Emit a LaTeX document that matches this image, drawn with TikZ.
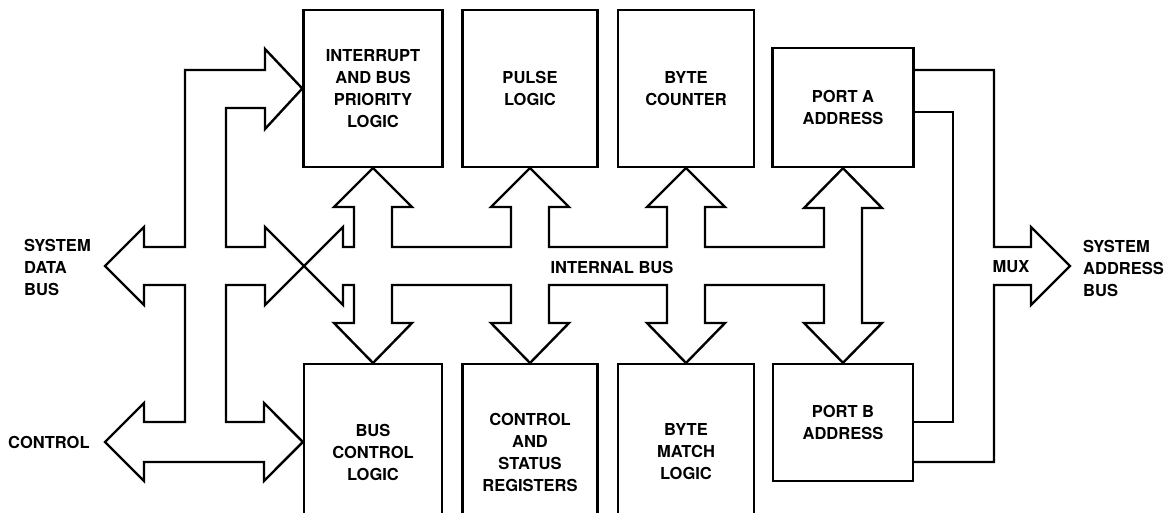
\documentclass[tikz,border=0pt]{standalone}
\usepackage{fontspec}
\setmainfont{TeX Gyre Heros}
\usetikzlibrary{calc}

\begin{document}
\begin{tikzpicture}[
    x=1pt, y=-1pt,
    block/.style={rectangle, draw=black, line width=2.4pt, inner sep=0pt,
                  align=center, font=\fontsize{16.5}{22}\selectfont\bfseries},
    topblock/.style={block, minimum height=157pt},
    lowblock/.style={block, minimum height=176pt},
    label/.style={inner sep=0pt, align=left, font=\fontsize{16.5}{22}\selectfont\bfseries},
    bus/.style={draw=black, line width=2.4pt, line join=miter}
]
\useasboundingbox (0,0) rectangle (1171,513);
\clip (0,0) rectangle (1171,513);

% Top row
\node[topblock, minimum width=139pt] (intr)  at (373,88.5) {INTERRUPT\\AND BUS\\PRIORITY\\LOGIC};
\node[topblock, minimum width=135pt] (pulse) at (530,88.5) {PULSE\\LOGIC};
\node[topblock, minimum width=136pt] (bcount) at (686,88.5) {BYTE\\COUNTER};
\node[block, minimum width=141pt, minimum height=119pt] (porta) at (843,107.5) {PORT A\\ADDRESS};

% Bottom row (runs off the page)
\node[lowblock, minimum width=138pt] (busctl) at (373,452) {BUS\\CONTROL\\LOGIC};
\node[lowblock, minimum width=135pt] (csr)    at (530,452) {CONTROL\\AND\\STATUS\\REGISTERS};
\node[lowblock, minimum width=136pt] (bmatch) at (686,452) {BYTE\\MATCH\\LOGIC};
\node[block, minimum width=140pt, minimum height=117pt] (portb) at (843,422.5) {PORT B\\ADDRESS};

% Labels
\node[label, anchor=west] (sysdata) at (24,267) {SYSTEM\\DATA\\BUS};
\node[label, anchor=west] (ctl) at (8,442) {CONTROL};
\node[label] (ibus) at (612,267) {INTERNAL BUS};
\node[label] (mux) at (1011,267) {MUX};
\node[label, anchor=west] (sysaddr) at (1083,268) {SYSTEM\\ADDRESS\\BUS};

% Meeting point of data bus and internal bus
\coordinate (x) at (304,266);

% System data bus and control bus
\draw[bus] (185,70) -- (265,70) -- (265,49) -- (intr.west) -- (265,129) -- (265,108)
    -- (226,108) -- (226,247) -- (265,247) -- (265,227) -- (x) -- (265,305) -- (265,285)
    -- (226,285) -- (226,422) -- (264,422) -- (264,403) -- (busctl.west |- 0,442)
    -- (264,481) -- (264,462) -- (144,462) -- (144,481) -- (105,442) -- (144,403)
    -- (144,422) -- (185,422) -- (185,285) -- (144,285) -- (144,305) -- (105,266)
    -- (144,227) -- (144,247) -- (185,247) -- cycle;

% Internal bus
\draw[bus] (x) -- (343,227) -- (343,247)
    \foreach \c in {373,530,686} {
      -- (\c-19,247) -- (\c-19,207) -- (\c-39,207) -- (\c,168) -- (\c+39,207) -- (\c+19,207) -- (\c+19,247) }
    -- (824,247) -- (824,208) -- (804,208) -- (porta.south) -- (882,208) -- (862,208)
    -- (862,323) -- (882,323) -- (portb.north) -- (804,323) -- (824,323) -- (824,285)
    \foreach \c in {686,530,373} {
      -- (\c+19,285) -- (\c+19,323) -- (\c+39,323) -- (\c,363) -- (\c-39,323) -- (\c-19,323) -- (\c-19,285) }
    -- (343,285) -- (343,305) -- cycle;

% System address bus (MUX)
\draw[bus] (porta.east |- 0,70) -- (994,70) -- (994,247) -- (1031,247) -- (1031,227)
    -- (1070,266) -- (1031,305) -- (1031,285) -- (994,285) -- (994,462) -- (portb.east |- 0,462);
\draw[bus] (porta.east |- 0,112) -- (953,112) -- (953,422) -- (portb.east |- 0,422);

\end{tikzpicture}
\end{document}
